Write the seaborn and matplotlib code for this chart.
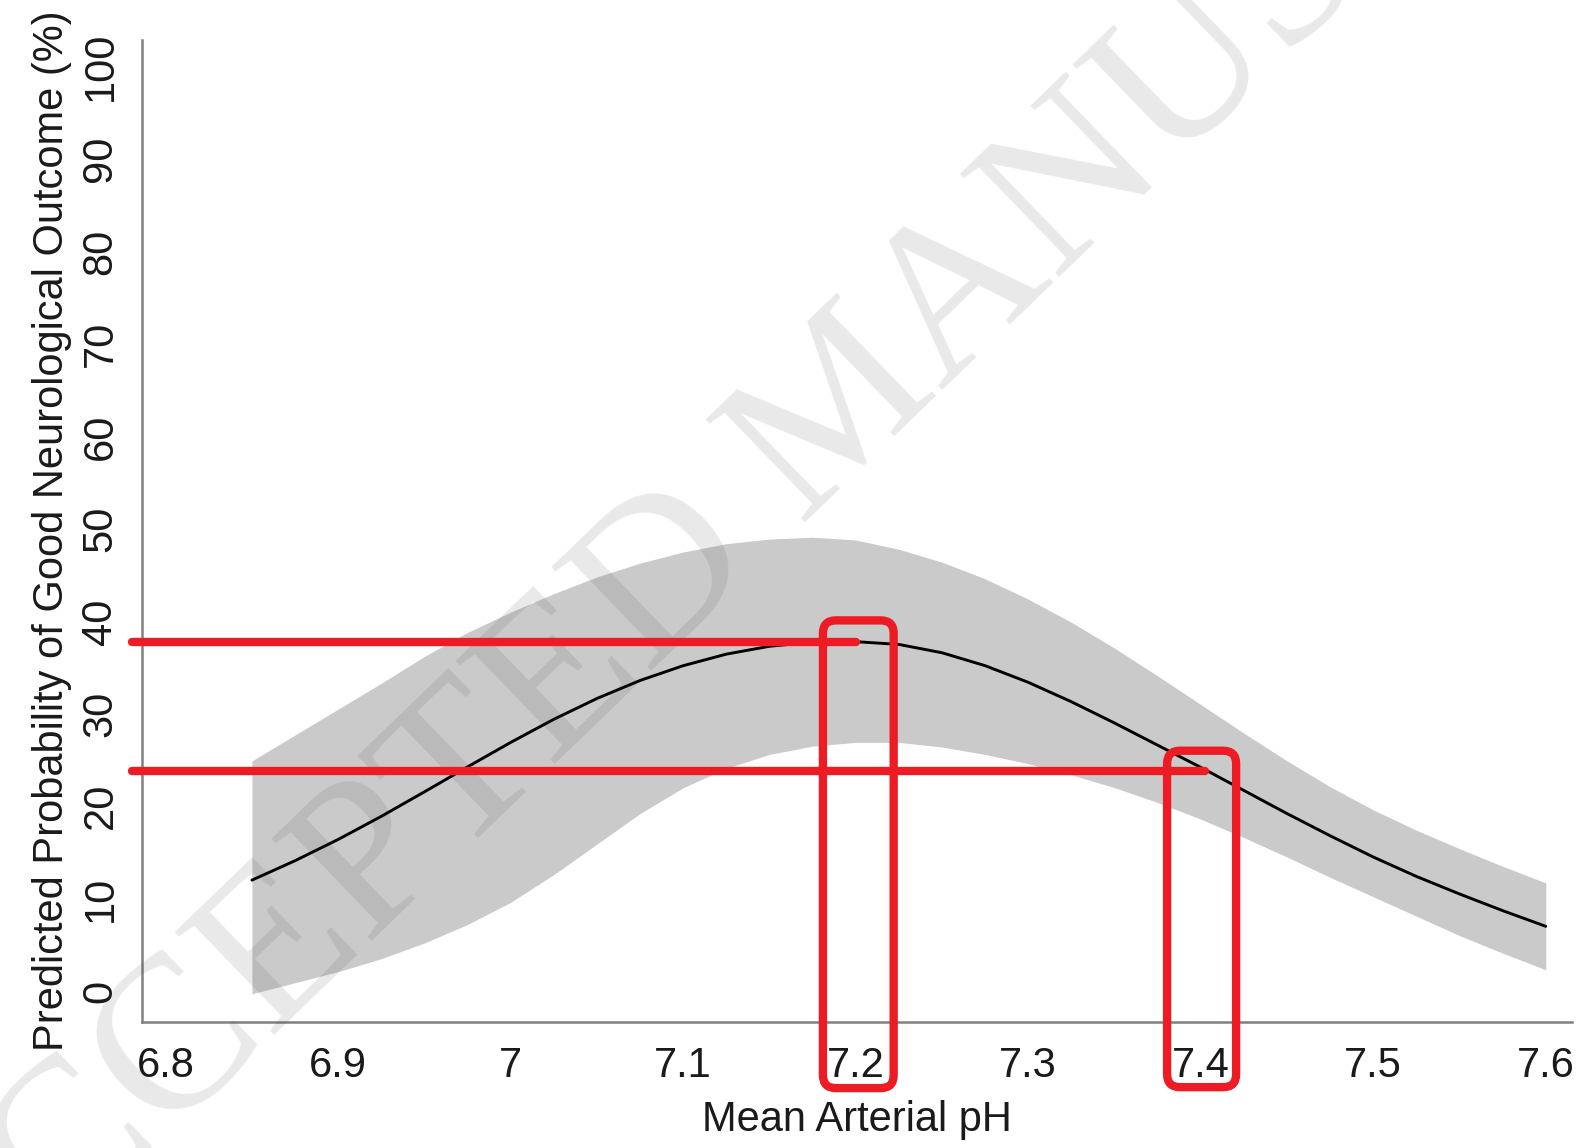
import numpy as np
import pandas as pd
import matplotlib
matplotlib.use("Agg")
import matplotlib.pyplot as plt
import seaborn as sns
from matplotlib.patches import FancyBboxPatch

# ---------------- data ----------------
ph = [6.85, 6.875, 6.9, 6.925, 6.95, 6.975, 7.0, 7.025, 7.05, 7.075, 7.1,
      7.125, 7.15, 7.175, 7.2, 7.225, 7.25, 7.275, 7.3, 7.325, 7.35, 7.375,
      7.4, 7.425, 7.45, 7.475, 7.5, 7.525, 7.55, 7.575, 7.6]
prob = [12.0, 14.1, 16.4, 18.9, 21.55, 24.25, 26.9, 29.4, 31.65, 33.6, 35.2,
        36.45, 37.3, 37.75, 37.8, 37.5, 36.6, 35.2, 33.4, 31.3, 29.0, 26.6,
        24.2, 21.7, 19.2, 16.8, 14.5, 12.4, 10.5, 8.7, 7.0]
upper = [24.9, 27.7, 30.5, 33.3, 36.2, 38.8, 41.0, 43.0, 44.8, 46.3, 47.5,
         48.4, 48.9, 49.1, 48.8, 47.8, 46.4, 44.6, 42.4, 39.9, 37.1, 34.1,
         31.0, 27.9, 24.9, 22.1, 19.6, 17.4, 15.4, 13.5, 11.7]
lower = [-0.3, 0.9, 2.1, 3.5, 5.2, 7.2, 9.6, 12.6, 15.9, 19.2, 22.0,
         24.1, 25.6, 26.5, 26.9, 26.9, 26.4, 25.6, 24.6, 23.4, 22.0, 20.4,
         18.6, 16.6, 14.5, 12.3, 10.2, 8.1, 6.0, 4.1, 2.3]

xticks = [6.8, 6.9, 7.0, 7.1, 7.2, 7.3, 7.4, 7.5, 7.6]
xtick_labels = ["6.8", "6.9", "7", "7.1", "7.2", "7.3", "7.4", "7.5", "7.6"]
yticks = [0, 10, 20, 30, 40, 50, 60, 70, 80, 90, 100]
ytick_labels = [str(v) for v in yticks]

# red annotations: horizontal reference levels and the pH values highlighted
ref_levels = [37.8, 23.8]
ref_start = 6.7805
ref_ends = [7.2, 7.4025]
box_x = [(7.181, 7.222), (7.3805, 7.4205)]
box_y = [(-10.5, 40.1), (-10.4, 26.0)]

xlabel = "Mean Arterial pH"
ylabel = "Predicted Probability of Good Neurological Outcome (%)"
watermark = "ACCEPTED MANUSCRIPT"

df = pd.DataFrame({"ph": ph, "prob": prob, "upper": upper, "lower": lower})

# ---------------- style ----------------
sns.set_theme(style="white")
plt.rcParams["font.family"] = ["Liberation Sans", "DejaVu Sans"]

fig = plt.figure(figsize=(15.78, 11.48), dpi=100)
ax = fig.add_axes([0.0900, 0.1100, 0.9062, 0.8552])

ax.fill_between(df["ph"], df["lower"], df["upper"], color="#cacaca",
                linewidth=0, zorder=1)
sns.lineplot(data=df, x="ph", y="prob", ax=ax, color="black", linewidth=2.1,
             zorder=3, sort=False)

ax.set_xlim(6.7863, 7.6152)
ax.set_ylim(-3.32, 102.9)

ax.set_xticks(xticks)
ax.set_xticklabels(xtick_labels)
ax.set_yticks(yticks)
ax.set_yticklabels(ytick_labels, rotation=90, va="center")

for s in ["top", "right"]:
    ax.spines[s].set_visible(False)
for s in ["left", "bottom"]:
    ax.spines[s].set_color("#808080")
    ax.spines[s].set_linewidth(1.8)

ax.tick_params(axis="both", which="major", direction="out", length=10.5,
               width=1.3, color="#404040", labelsize=30, labelcolor="#1a1a1a")
ax.tick_params(axis="x", pad=7)
ax.tick_params(axis="y", pad=5)
ax.set_xlabel(xlabel, fontsize=30, color="#1a1a1a", labelpad=10)
ax.set_ylabel(ylabel, fontsize=30, color="#1a1a1a", labelpad=6)

# watermark (page stamp), drawn under the red annotations
ax.text(0.559, 0.610, watermark, transform=fig.transFigure, rotation=44,
        rotation_mode="anchor", ha="center", va="baseline", fontsize=158,
        family="Liberation Serif", color="#3f3f3f", alpha=0.115,
        zorder=4, clip_on=False)

# red reference lines
red = "#ED1C24"
for lvl, xe in zip(ref_levels, ref_ends):
    ax.plot([ref_start, xe], [lvl, lvl], color=red, linewidth=6.0,
            solid_capstyle="round", zorder=6, clip_on=False)

# red rounded boxes around the highlighted pH ticks
fig.canvas.draw()
p0 = ax.transData.transform((0, 0))
p1 = ax.transData.transform((1, 1))
aspect = (p1[0] - p0[0]) / (p1[1] - p0[1])
rsize = 0.0075
for (x0, x1), (y0, y1) in zip(box_x, box_y):
    patch = FancyBboxPatch((x0, y0), x1 - x0, y1 - y0,
                           boxstyle=f"round,pad=0,rounding_size={rsize}",
                           mutation_aspect=aspect, fill=False,
                           edgecolor=red, linewidth=6.0, zorder=7,
                           clip_on=False)
    ax.add_patch(patch)

fig.savefig("out.png", dpi=100)
